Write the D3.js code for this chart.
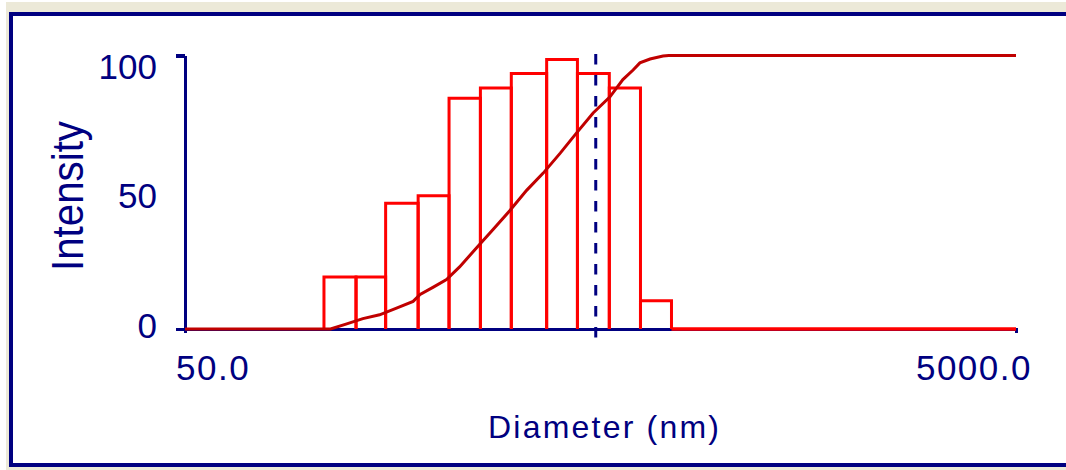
<!DOCTYPE html>
<html>
<head>
<meta charset="utf-8">
<script src="https://cdnjs.cloudflare.com/ajax/libs/d3/7.8.5/d3.min.js"></script>
<style>
    body { margin: 0; background: #fff; }
    svg { display: block; }
    text { font-family: "Liberation Sans", Arial, sans-serif; fill: #000080; }
</style>
</head>
<body>
<script>
"use strict";

// histogram bins (diameter edges, nm) and intensity per bin
var binEdges = [108, 129, 152, 182, 216, 257, 305, 371, 440, 525, 624, 741];
var intensity = [19, 19, 46, 48.7, 84.4, 88.1, 93.4, 98.5, 93.4, 88.1, 10.3];

// cumulative curve
var cumDiameter = [50, 112, 122, 134, 147, 162, 177, 184, 198, 213, 229, 252, 276, 303, 332, 364, 400, 438, 480, 527, 566, 599, 622, 658, 707, 730, 5000];
var cumValue = [0, 0, 1.8, 3.8, 5.2, 7.7, 10.1, 12.6, 15.3, 18.1, 22.7, 29.8, 36.5, 43.4, 50.7, 57, 64.3, 71.7, 79, 84.9, 91.2, 94.7, 97.3, 98.7, 99.8, 100, 100];

var meanDiameter = 487;
var yTickLabels = [0, 50, 100];
var xTickValues = [50, 5000];
var xTickLabels = ["50.0", "5000.0"];

var width = 1066,
    height = 470;

var navy = "#000080",
    red = "#FF0000",
    darkRed = "#C00000";

var x = d3.scaleLog()
          .domain([50, 5000])
          .range([185, 1016]);

var y = d3.scaleLinear()
          .domain([0, 100])
          .range([329, 55.5]);

// labels are spread evenly between the two end ticks
var labelY = d3.scaleLinear()
               .domain([0, 100])
               .range([y(0) - 4, y(100) + 11]);

var svg = d3.select("body").append("svg")
    .attr("width", width)
    .attr("height", height);

// frame
svg.append("rect")
    .attr("x", 6).attr("y", 2)
    .attr("width", width).attr("height", height)
    .attr("fill", "#ECE9D8");

svg.append("rect")
    .attr("x", 11).attr("y", 14)
    .attr("width", width + 20).attr("height", 451)
    .attr("fill", "#fff")
    .attr("stroke", navy)
    .attr("stroke-width", 4);

// axes
var yAxis = d3.axisLeft(y)
    .tickValues([0, 100])
    .tickSize(9)
    .tickSizeOuter(0)
    .tickFormat("");

var xAxis = d3.axisBottom(x)
    .tickValues(xTickValues)
    .tickSize(4)
    .tickSizeOuter(4)
    .tickFormat("");

function styleAxis(g) {
    g.selectAll("path, line")
        .attr("stroke", navy)
        .attr("stroke-width", 3.5)
        .attr("shape-rendering", "crispEdges");
}

svg.append("g")
    .attr("transform", "translate(" + x(50) + ",0)")
    .call(yAxis)
    .call(styleAxis);

svg.append("g")
    .attr("transform", "translate(0," + y(0) + ")")
    .call(xAxis)
    .call(styleAxis);

// y tick labels
svg.selectAll(".ylabel")
    .data(yTickLabels)
    .enter().append("text")
        .attr("class", "ylabel")
        .attr("x", 157)
        .attr("y", function(d) { return labelY(d); })
        .attr("dy", "0.36em")
        .attr("text-anchor", "end")
        .style("font-size", "35px")
        .text(function(d) { return d; });

// x tick labels
svg.selectAll(".xlabel")
    .data(xTickLabels)
    .enter().append("text")
        .attr("class", "xlabel")
        .attr("x", function(d, i) { return i === 0 ? x(xTickValues[i]) - 9 : x(xTickValues[i]) + 16; })
        .attr("y", 380)
        .attr("text-anchor", function(d, i) { return i === 0 ? "start" : "end"; })
        .style("font-size", "35px")
        .style("letter-spacing", "1.5px")
        .text(function(d) { return d; });

// axis titles
svg.append("text")
    .attr("x", 488)
    .attr("y", 438)
    .attr("textLength", 231)
    .attr("lengthAdjust", "spacing")
    .style("font-size", "32px")
    .text("Diameter (nm)");

svg.append("text")
    .attr("transform", "translate(83,196) rotate(-90)")
    .attr("text-anchor", "middle")
    .attr("textLength", 150)
    .attr("lengthAdjust", "spacingAndGlyphs")
    .style("font-size", "44px")
    .text("Intensity");

// mean marker
svg.append("line")
    .attr("x1", x(meanDiameter)).attr("x2", x(meanDiameter))
    .attr("y1", y(100) - 1.5).attr("y2", y(0) + 9)
    .attr("stroke", navy)
    .attr("stroke-width", 3)
    .attr("stroke-dasharray", "10.5,10.5");

// zero baseline outside the bins
svg.append("line")
    .attr("x1", x(binEdges[binEdges.length - 1])).attr("x2", x(5000))
    .attr("y1", y(0)).attr("y2", y(0))
    .attr("stroke", red)
    .attr("stroke-width", 3.5);

// histogram bars (no bottom edge)
svg.selectAll(".bar")
    .data(intensity)
    .enter().append("path")
        .classed("bar", true)
        .attr("d", function(d, i) {
            var l = x(binEdges[i]), r = x(binEdges[i + 1]);
            return "M" + l + "," + y(0) + "V" + y(d) + "H" + r + "V" + y(0);
        })
        .attr("fill", "none")
        .attr("stroke", red)
        .attr("stroke-width", 3);

// cumulative curve
var cumData = [];
for (var i = 0; i < cumDiameter.length; i++) {
    cumData.push({ d: cumDiameter[i], v: cumValue[i] });
}

svg.append("path")
    .datum(cumData)
    .attr("d", d3.line()
        .x(function(p) { return x(p.d); })
        .y(function(p) { return y(p.v); }))
    .attr("fill", "none")
    .attr("stroke", darkRed)
    .attr("stroke-width", 3);
</script>
</body>
</html>
